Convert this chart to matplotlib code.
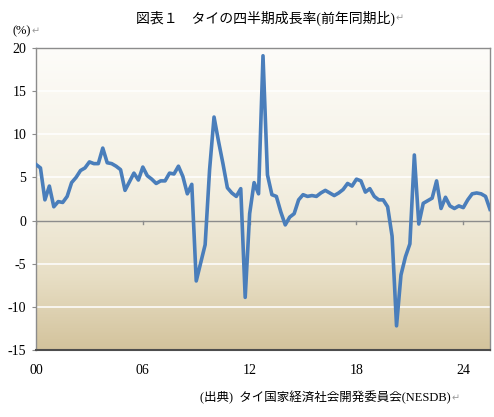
import numpy as np
import matplotlib
matplotlib.use("Agg")
import matplotlib.pyplot as plt
from matplotlib.colors import LinearSegmentedColormap

# Thailand real GDP growth, y/y %, 2000Q1 - 2025Q3
growth = [
    6.5, 6.1, 2.4, 4.0,     # 2000
    1.6, 2.2, 2.1, 2.8,     # 2001
    4.4, 5.0, 5.8, 6.1,     # 2002
    6.8, 6.6, 6.6, 8.4,     # 2003
    6.7, 6.6, 6.3, 5.9,     # 2004
    3.5, 4.5, 5.5, 4.7,     # 2005
    6.2, 5.2, 4.8, 4.3,     # 2006
    4.6, 4.6, 5.5, 5.4,     # 2007
    6.3, 5.1, 3.1, 4.2,     # 2008
    -7.0, -4.9, -2.8, 5.9,  # 2009
    12.0, 9.2, 6.6, 3.8,    # 2010
    3.2, 2.8, 3.7, -8.9,    # 2011
    0.8, 4.4, 3.1, 19.1,    # 2012
    5.3, 3.0, 2.8, 1.0,     # 2013
    -0.5, 0.4, 0.8, 2.4,    # 2014
    3.0, 2.8, 2.9, 2.8,     # 2015
    3.2, 3.5, 3.2, 2.9,     # 2016
    3.2, 3.6, 4.3, 4.0,     # 2017
    4.8, 4.6, 3.3, 3.7,     # 2018
    2.8, 2.4, 2.4, 1.6,     # 2019
    -1.8, -12.2, -6.3, -4.2,  # 2020
    -2.7, 7.6, -0.4, 2.0,   # 2021
    2.3, 2.6, 4.6, 1.4,     # 2022
    2.7, 1.7, 1.4, 1.7,     # 2023
    1.5, 2.4, 3.1, 3.2,     # 2024
    3.1, 2.8, 1.3,          # 2025
]
year_labels = ["00", "06", "12", "18", "24"]
y_ticks = [-15, -10, -5, 0, 5, 10, 15, 20]

title = "図表１　タイの四半期成長率(前年同期比)"
source = "(出典)  タイ国家経済社会開発委員会(NESDB)"

fam = ["Liberation Serif", "Noto Sans CJK JP", "DejaVu Sans"]

fig = plt.figure(figsize=(4.94, 4.17), dpi=100)
ax = fig.add_axes([36 / 494, 67 / 417, 454 / 494, 302 / 417])

x = np.arange(len(growth))
n_last = len(growth) - 1

# background gradient, light at the top, tan at the bottom
cmap = LinearSegmentedColormap.from_list(
    "bg", [(0.0, "#fdfcf9"), (0.45, "#f4f0e3"), (0.75, "#e8dfc6"), (1.0, "#d3c39c")])
grad = np.linspace(0, 1, 256).reshape(-1, 1)
ax.imshow(grad, cmap=cmap, aspect="auto", origin="upper",
          extent=[0, n_last, -15, 20], zorder=0, interpolation="bicubic")
ax.set_xlim(0, n_last)
ax.set_ylim(-15, 20)

for yv in y_ticks:
    if yv not in (0, -15, 20):
        ax.axhline(yv, color="white", lw=1.1, zorder=1)
ax.axhline(0, color="#8c8c8c", lw=1.0, zorder=2)

# category tick marks hanging from the zero line
for i in range(0, len(growth), 24):
    ax.plot([i, i], [0, -0.45], color="#8c8c8c", lw=1.0, zorder=2)

ax.plot(x, growth, color="#4a7ebb", lw=2.6, zorder=3, solid_joinstyle="round")

ax.set_yticks(y_ticks)
ax.set_yticklabels([str(v) for v in y_ticks], family=fam, fontsize=10)
ax.set_xticks(x[::24])
ax.set_xticklabels(year_labels, family=fam, fontsize=10)
ax.tick_params(axis="y", length=3, width=0.8, color="#8c8c8c", pad=4)
ax.tick_params(axis="x", length=0, pad=10)

for side in ["top", "left", "right"]:
    ax.spines[side].set_color("#8c8c8c")
    ax.spines[side].set_linewidth(1.0)
ax.spines["bottom"].set_color("#4d4d4d")
ax.spines["bottom"].set_linewidth(1.5)

t1 = fig.text(265 / 494, 1 - 18 / 417, title, ha="center", va="center",
              family=fam, fontsize=10)
t2 = fig.text(12 / 494, 1 - 31 / 417, "(%)", ha="left", va="center",
              family=fam, fontsize=9)
t3 = fig.text(200 / 494, 1 - 398 / 417, source, ha="left", va="center",
              family=fam, fontsize=9)

# Word paragraph marks after each text
fig.canvas.draw()
inv = fig.transFigure.inverted()
for t in (t1, t2, t3):
    bb = t.get_window_extent()
    x1, ym = inv.transform((bb.x1, (bb.y0 + bb.y1) / 2))
    fig.text(x1 + 0.002, ym, "\u21b5", ha="left", va="center",
             family=["DejaVu Sans"], fontsize=7, color="#9a9a9a")

fig.savefig("out.png", dpi=100)
